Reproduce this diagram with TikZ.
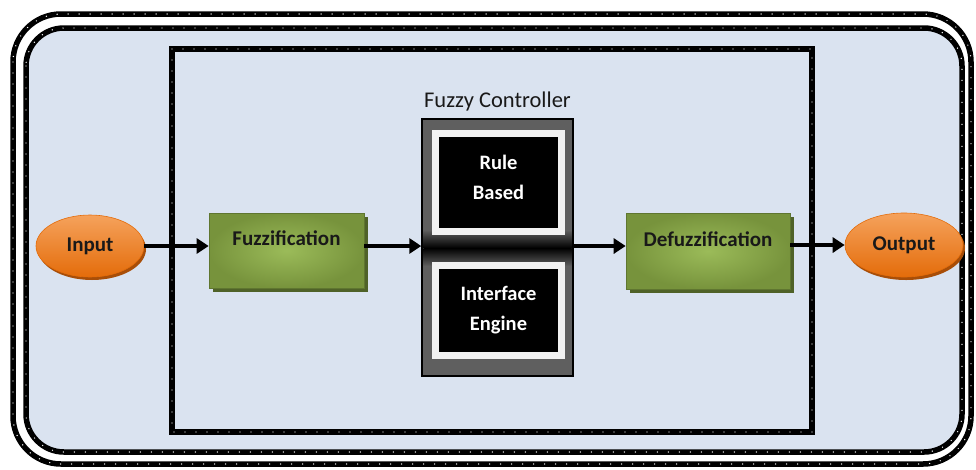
\documentclass[tikz,border=0pt]{standalone}
\usepackage{fontspec}
\setmainfont{Carlito}
\usetikzlibrary{shapes.geometric,arrows.meta,shadows}
\definecolor{bgblue}{HTML}{DAE3F0}
\definecolor{gdark}{HTML}{77933C}
\definecolor{glight}{HTML}{9BBB59}
\definecolor{gshadow}{HTML}{4F6228}
\definecolor{odark}{HTML}{E46C0A}
\definecolor{olight}{HTML}{F5A25C}
\definecolor{oshadow}{HTML}{A84E08}
\definecolor{fcgray}{HTML}{5F5F5F}
\definecolor{framew}{HTML}{F2F2F2}
\begin{document}
\begin{tikzpicture}[x=1pt,y=-1pt,
  dotborder/.style={draw=black, line width=5.5pt,
    postaction={draw=white, line width=1.4pt, dash pattern=on 0pt off 11pt, line cap=round}},
  greenbox/.style={rectangle, inner sep=0pt, inner color=glight, outer color=gdark,
    draw=gdark!80!black, line width=0.6pt,
    drop shadow={shadow xshift=4pt, shadow yshift=-4pt, fill=gshadow, opacity=1}},
  ovalnode/.style={ellipse, inner sep=0pt, top color=olight, bottom color=odark,
    draw=odark, line width=0.6pt, font=\fontsize{21}{24}\selectfont\bfseries,
    text=black!90,
    drop shadow={shadow xshift=2pt, shadow yshift=-3pt, fill=oshadow, opacity=1}},
  boxtext/.style={font=\fontsize{21}{24}\selectfont\bfseries, text=black!90, inner sep=0pt},
  blackbox/.style={rectangle, fill=black, draw=framew, line width=7pt, inner sep=0pt,
    minimum width=126pt},
  whitetext/.style={text=white, align=center, inner sep=0pt,
    font=\fontsize{20.5}{30}\selectfont\bfseries},
  flow/.style={draw=black, line width=4pt, -{Triangle[length=12pt,width=15pt]}}
]
\useasboundingbox (0,0) rectangle (976,469);
\fill[white] (0,0) rectangle (976,469);
% outer double frame
\fill[white] (13,14) [rounded corners=48pt] rectangle (971,464);
\path[dotborder, rounded corners=48pt] (13,14) rectangle (971,464);
\fill[bgblue] (26,28) [rounded corners=38pt] rectangle (962,452);
\path[dotborder, rounded corners=38pt] (26,28) rectangle (962,452);
% inner frame
\path[dotborder] (172,49) rectangle (812,432);
% fuzzy controller
\node[rectangle, fill=fcgray, draw=black, line width=1.5pt, minimum width=151pt,
  minimum height=257pt, inner sep=0pt] (fc) at (497.5,247.5) {};
\node[font=\fontsize{22.5}{26}\selectfont, text=black!90] (fctitle) at (497.5,101) {Fuzzy Controller};
\shade[top color=fcgray, bottom color=black] (423.5,230) rectangle (571.5,248);
\shade[top color=black, bottom color=fcgray] (423.5,248) rectangle (571.5,266);
\node[blackbox, minimum height=98pt] (rb) at (498.5,182.5) {};
\node[whitetext] (rbt) at ([yshift=5pt]rb.center) {Rule\\Based};
\node[blackbox, minimum height=90pt] (ie) at (498.5,310.5) {};
\node[whitetext] (iet) at (ie.center) {Interface\\Engine};
% green boxes
\node[greenbox, minimum width=155pt, minimum height=75pt] (fz) at (286.5,250.5) {};
\node[boxtext] (fzt) at ([yshift=12pt]fz.center) {Fuzzification};
\node[greenbox, minimum width=164pt, minimum height=76pt] (dz) at (708,251) {};
\node[boxtext] (dzt) at ([yshift=12pt]dz.center) {Defuzzification};
% ovals
\node[ovalnode, minimum width=108pt, minimum height=62pt] (in) at (90,246) {Input};
\node[ovalnode, minimum width=118pt, minimum height=64pt] (out) at (904,245) {Output};
% arrows
\draw[flow] (in.east) -- (in.east -| fz.west);
\draw[flow] (fz.east |- in.east) -- (fc.west |- in.east);
\draw[flow] (fc.east |- in.east) -- (dz.west |- in.east);
\draw[flow] (dz.east |- out.west) -- (out.west);
\end{tikzpicture}
\end{document}
